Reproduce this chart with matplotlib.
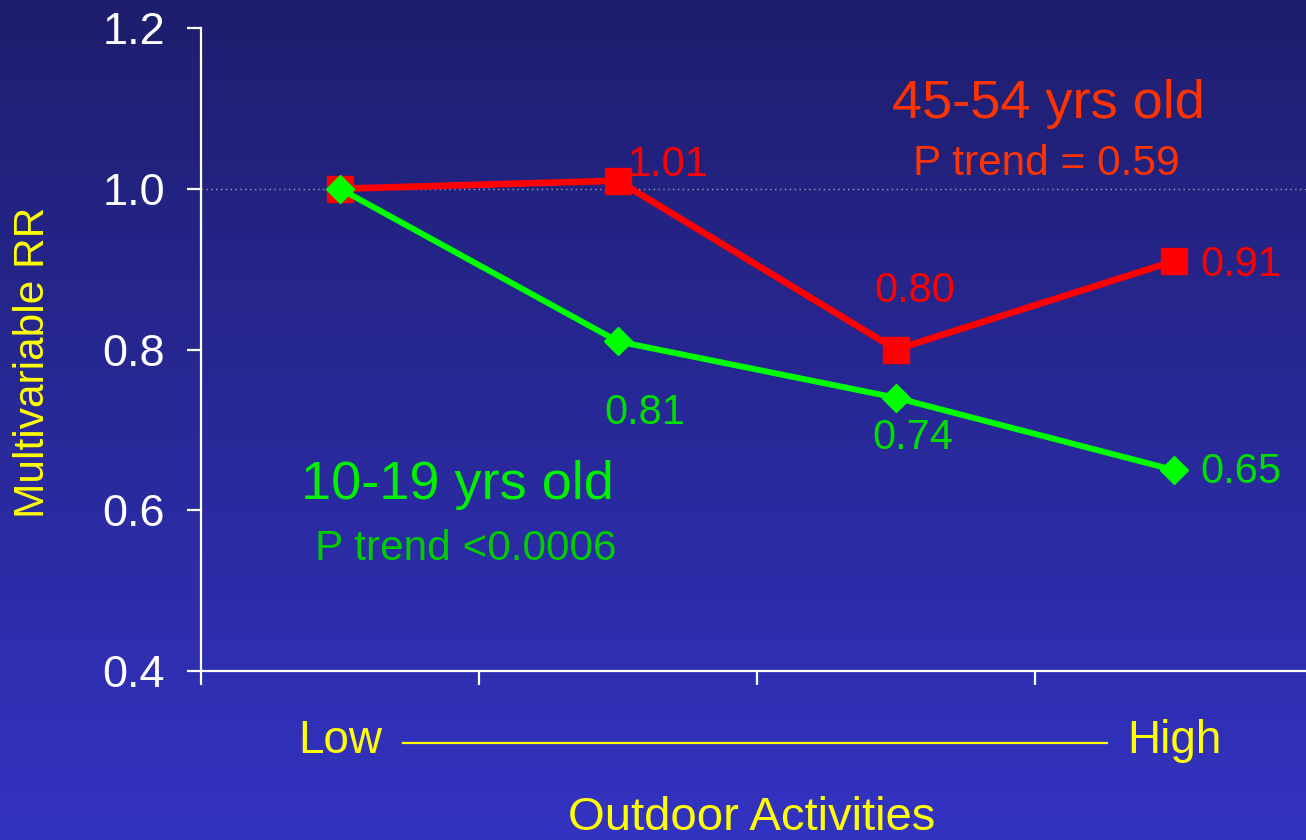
import numpy as np
import matplotlib
matplotlib.use("Agg")
import matplotlib.pyplot as plt
from matplotlib.colors import LinearSegmentedColormap
from matplotlib.lines import Line2D
from matplotlib.transforms import blended_transform_factory

plt.rcParams['font.family'] = ['Liberation Sans', 'DejaVu Sans']

# Outdoor activity levels, low to high
levels = ["Low", "2", "3", "High"]
rr_young = [1.00, 0.81, 0.74, 0.65]   # 10-19 yrs old
rr_older = [1.00, 1.01, 0.80, 0.91]   # 45-54 yrs old
young_labels = ["", "0.81", "0.74", "0.65"]
older_labels = ["", "1.01", "0.80", "0.91"]
y_ticks = [0.4, 0.6, 0.8, 1.0, 1.2]

W, H = 1306, 840
fig = plt.figure(figsize=(W / 100, H / 100), dpi=100)

# Vertical blue gradient background
bg = fig.add_axes([0, 0, 1, 1], zorder=0)
cmap = LinearSegmentedColormap.from_list("bg", ["#1e1e6e", "#3333c2"])
grad = np.linspace(0, 1, 256).reshape(-1, 1)
bg.imshow(grad, aspect="auto", cmap=cmap, extent=[0, 1, 0, 1], origin="upper")
bg.set_axis_off()

ax = fig.add_axes([201 / W, 1 - 671 / H, 1 - 201 / W, (671 - 28) / H], zorder=1)
ax.patch.set_alpha(0)

x = np.arange(len(levels)) + 0.5
ax.set_xlim(0, (W - 201) / 278)
ax.set_ylim(0.4, 1.2)

ax.axhline(1.0, color="#9a9ac0", lw=1.0, ls=(0, (1, 2.5)), zorder=1)

ax.plot(x, rr_older, color="#ff0000", lw=4.8, marker="s", ms=19,
        mec="#ff0000", mfc="#ff0000", zorder=3, clip_on=False)
ax.plot(x, rr_young, color="#00ff00", lw=4.3, marker="D", ms=14.5,
        mec="#00ff00", mfc="#00ff00", zorder=4, clip_on=False)

# Value labels
older_offsets = [None, (10, 16), (-22, 59), (26, -4)]
young_offsets = [None, (-14, -72), (-24, -40), (26, -2)]
for xi, yi, lab, off in zip(x, rr_older, older_labels, older_offsets):
    if lab:
        ax.annotate(lab, (xi, yi), xytext=off, textcoords="offset pixels",
                    color="#ff0000", fontsize=30, ha="left", va="center")
for xi, yi, lab, off in zip(x, rr_young, young_labels, young_offsets):
    if lab:
        ax.annotate(lab, (xi, yi), xytext=off, textcoords="offset pixels",
                    color="#00dd00", fontsize=30, ha="left", va="center")

# Group annotations
fig.text(1048 / W, 1 - 104 / H, "45-54 yrs old", color="#ff3300",
         fontsize=39, ha="center", va="center")
fig.text(1046 / W, 1 - 164 / H, "P trend = 0.59", color="#ff3300",
         fontsize=30.5, ha="center", va="center")
fig.text(457 / W, 1 - 485 / H, "10-19 yrs old", color="#00f000",
         fontsize=39, ha="center", va="center")
fig.text(466 / W, 1 - 549 / H, "P trend <0.0006", color="#00cc00",
         fontsize=30.5, ha="center", va="center")

# Axes styling
for s in ("top", "right"):
    ax.spines[s].set_visible(False)
for s in ("left", "bottom"):
    ax.spines[s].set_color("white")
    ax.spines[s].set_linewidth(1.6)

ax.set_yticks(y_ticks)
ax.set_yticklabels([f"{v:.1f}" for v in y_ticks])
ax.set_xticks([0, 1, 2, 3])
ax.set_xticklabels([])
ax.tick_params(axis="y", colors="white", labelsize=32.5, length=10, width=1.6, pad=16)
ax.tick_params(axis="x", colors="white", length=10, width=1.6)

# Vertical axis title
fig.text(33 / W, 1 - 362 / H, "Multivariable RR", color="#ffff00",
         fontsize=30.5, rotation=90, ha="center", va="center")

# Low -> High axis description
tr = blended_transform_factory(ax.transData, fig.transFigure)
ax.text(x[0], 1 - 741 / H, levels[0], transform=tr, color="#ffff00",
        fontsize=33, ha="center", va="center", clip_on=False)
ax.text(x[-1], 1 - 741 / H, levels[-1], transform=tr, color="#ffff00",
        fontsize=33, ha="center", va="center", clip_on=False)
fig.add_artist(Line2D([403 / W, 1107 / W], [1 - 743 / H] * 2, color="#ffff00",
                      lw=1.6, transform=fig.transFigure))
fig.text(752 / W, 1 - 818 / H, "Outdoor Activities", color="#ffff00",
         fontsize=34, ha="center", va="center")

fig.savefig("out.png", dpi=100)
